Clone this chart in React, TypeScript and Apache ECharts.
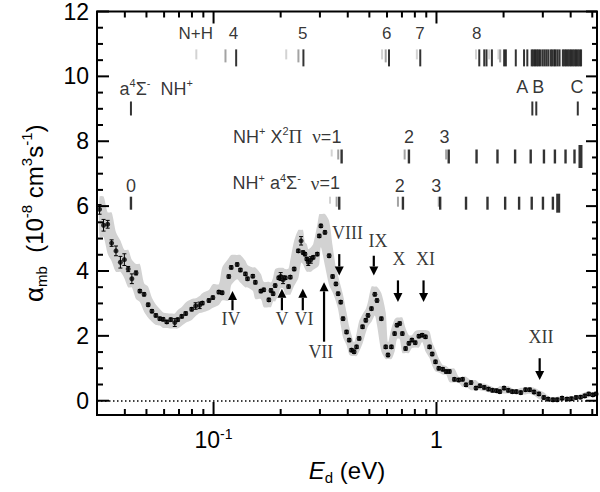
import { useEffect, useRef } from 'react';
import * as echarts from 'echarts';

const SANS = '"Liberation Sans", Arial, Helvetica, sans-serif';
const SERIF = '"Liberation Serif", "Times New Roman", Times, serif';

// ---- measured rate coefficient (E_d in eV, alpha in 1e-8 cm^3 s^-1)
const energy = [
  0.0308, 0.0321, 0.0335, 0.0349, 0.0365, 0.0382, 0.0398, 0.0414, 0.0430, 0.0449,
  0.0467, 0.0488, 0.0509, 0.0529, 0.0551, 0.0574, 0.0594, 0.0617, 0.0643, 0.0670,
  0.0691, 0.0720, 0.0750, 0.0798, 0.0831, 0.0866, 0.0891, 0.0953, 0.0993, 0.1056,
  0.1093, 0.1170, 0.1200, 0.1276, 0.1320, 0.139, 0.142, 0.150, 0.154, 0.163,
  0.168, 0.177, 0.181, 0.185, 0.189, 0.196, 0.200, 0.205, 0.210, 0.217,
  0.221, 0.230, 0.240, 0.247, 0.252, 0.257, 0.262, 0.266, 0.273, 0.280,
  0.292, 0.298, 0.303, 0.316, 0.330, 0.342, 0.354, 0.362, 0.372, 0.381,
  0.395, 0.406, 0.416, 0.427, 0.438, 0.450, 0.466, 0.482, 0.493, 0.511,
  0.529, 0.541, 0.566, 0.592, 0.606, 0.628, 0.649, 0.665, 0.684, 0.703,
  0.727, 0.752, 0.776, 0.803, 0.834, 0.863, 0.893, 0.931, 0.957, 0.990,
  1.024, 1.067, 1.105, 1.143, 1.203, 1.257, 1.310, 1.357, 1.429, 1.504,
  1.567, 1.638, 1.712, 1.784, 1.859, 1.924, 2.01, 2.10, 2.19, 2.28,
  2.39, 2.51, 2.62, 2.74, 2.88, 3.03, 3.17, 3.33, 3.48, 3.66,
  3.85, 4.03, 4.23, 4.43, 4.63, 4.82, 5.03, 5.20,
];
const alpha = [
  5.90, 5.41, 5.44, 4.86, 4.62, 4.27, 4.35, 4.06, 3.76, 3.94,
  3.38, 3.28, 2.96, 2.76, 2.63, 2.53, 2.51, 2.43, 2.50, 2.41,
  2.50, 2.60, 2.69, 2.82, 2.92, 2.94, 3.01, 3.09, 3.18, 3.35,
  3.33, 3.83, 4.11, 4.20, 4.03, 3.91, 3.76, 3.84, 3.65, 3.38,
  3.42, 3.11, 3.40, 3.30, 3.55, 3.79, 3.83, 3.73, 3.79, 3.52,
  3.81, 4.06, 4.62, 4.93, 4.57, 4.52, 4.37, 4.27, 4.34, 4.42,
  4.52, 5.08, 5.39, 5.19, 4.47, 3.83, 3.60, 3.30, 3.04, 2.53,
  2.12, 1.87, 1.56, 1.51, 1.66, 1.92, 2.28, 2.48, 2.63, 2.84,
  3.28, 3.09, 2.53, 1.66, 1.41, 1.66, 2.07, 2.33, 2.38, 2.07,
  1.61, 1.77, 1.87, 1.79, 1.99, 2.02, 1.97, 1.66, 1.44, 1.20,
  1.00, 0.97, 0.90, 0.90, 0.66, 0.64, 0.66, 0.49, 0.56, 0.39,
  0.46, 0.41, 0.36, 0.32, 0.31, 0.28, 0.39, 0.32, 0.28, 0.28,
  0.25, 0.34, 0.34, 0.27, 0.21, 0.10, 0.05, 0.03, 0.03, 0.08,
  0.05, 0.06, 0.10, 0.11, 0.15, 0.21, 0.18, 0.21,
];
const alphaErr = [
  0.15, 0.18, 0.12, 0.10, 0.15, 0.18, 0.18, 0.08, 0.15, 0.06,
  0.05, 0.05, 0.05, 0.05, 0.05, 0.05, 0.05, 0.05, 0.05, 0.12,
  0.05, 0.05, 0.05, 0.05, 0.10, 0.10, 0.05, 0.05, 0.05, 0.05,
  0.05, 0.05, 0.05, 0.05, 0.05, 0.05, 0.05, 0.05, 0.05, 0.05,
  0.05, 0.05, 0.05, 0.05, 0.05, 0.05, 0.12, 0.12, 0.05, 0.05,
  0.05, 0.05, 0.05, 0.13, 0.05, 0.05, 0.05, 0.10, 0.10, 0.05,
  0.05, 0.05, 0.05, 0.05, 0.05, 0.05, 0.05, 0.05, 0.05, 0.05,
  0.05, 0.05, 0.05, 0.05, 0.05, 0.05, 0.05, 0.05, 0.05, 0.05,
  0.05, 0.05, 0.05, 0.05, 0.05, 0.05, 0.05, 0.05, 0.05, 0.05,
  0.05, 0.05, 0.05, 0.05, 0.05, 0.05, 0.05, 0.05, 0.05, 0.05,
  0.05, 0.05, 0.05, 0.05, 0.05, 0.05, 0.05, 0.05, 0.05, 0.05,
  0.05, 0.05, 0.05, 0.05, 0.05, 0.05, 0.05, 0.05, 0.05, 0.05,
  0.05, 0.05, 0.05, 0.05, 0.05, 0.05, 0.05, 0.05, 0.05, 0.05,
  0.05, 0.05, 0.05, 0.05, 0.05, 0.05, 0.05, 0.05,
];

// ---- energy level markers (eV)
// row 1: N+H limit and NH X-state levels 4..8
const nhLight = [0.0837, 0.2118, 0.5700, 0.8167, 1.504, 1.724, 1.897];
const nhMid = [0.1131, 0.2403, 0.5920, 1.931];
const nhBlack = [
  0.1263, 0.2530, 0.6124, 0.8458, 1.556, 1.638, 1.677, 1.773, 2.012, 2.048,
  2.269, 2.471, 2.556, 2.675, 2.719, 2.767, 2.816, 2.862, 2.913, 2.983,
  3.045, 3.108, 3.173, 3.251, 3.306, 3.374, 3.423, 3.494, 3.567, 3.690,
  3.755, 3.817, 3.885, 3.953, 4.018, 4.089, 4.161, 4.230, 4.304, 4.380, 4.453,
];
const nhLabels = ['N+H', '4', '5', '6', '7', '8'];
const nhLabelE = [0.0832, 0.1229, 0.2514, 0.598, 0.844, 1.516];
// row 2: a4Sigma- NH+ and A, B, C
const a4Marks = [0.0426, 2.692, 2.804, 4.305];
const abcLabels = ['A', 'B', 'C'];
const abcLabelE = [2.428, 2.862, 4.274];
// row 3: NH+ X2Pi v levels
const xLight = [0.3388];
const xMid = [0.3625, 0.7199, 1.105];
const xBlack = [0.3754, 0.7524, 1.135, 1.513, 1.878, 2.253, 2.647, 3.035, 3.399, 3.793, 4.161];
const xLimit = [4.426];
const xLabels = ['2', '3'];
const xLabelE = [0.7536, 1.086];
// row 4: NH+ a4Sigma- v levels
const aLight = [0.3329];
const aMid = [0.3566, 0.6718, 1.024];
const aBlack = [0.0426, 0.3663, 0.7072, 1.039, 1.357, 1.694, 2.033, 2.348, 2.675, 3.004, 3.329];
const aLimit = [3.516];
const aLabels = ['0', '2', '3'];
const aLabelE = [0.0426, 0.6835, 0.997];

// ---- resonance arrows
const arrowNames = ['IV', 'V', 'VI', 'VII', 'VIII', 'IX', 'X', 'XI', 'XII'];
const arrowE = [0.1216, 0.2026, 0.2514, 0.3131, 0.3663, 0.5234, 0.6718, 0.8750, 2.904];
const arrowFrom = [2.79, 2.79, 2.79, 1.82, 4.52, 4.47, 3.71, 3.71, 1.31];
const arrowTo = [3.38, 3.45, 3.45, 3.65, 3.86, 3.86, 3.04, 3.04, 0.64];
const arrowLabelE = [0.1197, 0.2026, 0.2548, 0.303, 0.3984, 0.547, 0.679, 0.893, 2.943];
const arrowLabelY = [2.53, 2.53, 2.53, 1.51, 5.18, 4.92, 4.36, 4.36, 1.98];

// ---- axis ticks
const xMajorTicks = [0.1, 1];
const xMinorTicks = [0.04, 0.05, 0.06, 0.07, 0.08, 0.09, 0.2, 0.3, 0.4, 0.5, 0.6, 0.7, 0.8, 0.9, 2, 3, 4, 5];
const yMajorTicks = [0, 2, 4, 6, 8, 10, 12];
const yMinorTicks = [0.5, 1, 1.5, 2.5, 3, 3.5, 4.5, 5, 5.5, 6.5, 7, 7.5, 8.5, 9, 9.5, 10.5, 11, 11.5];

const X_MIN = 0.03;
const X_MAX = 5.25;
const Y_MIN = -0.44;
const Y_MAX = 12;

const ROW1_Y = 10.57;
const ROW2_Y = 9.01;
const ROW3_Y = 7.53;
const ROW4_Y = 6.09;

function richFor(size: number) {
  const sup = Math.round(size * 0.62);
  return {
    n: { fontFamily: SANS, fontSize: size, lineHeight: size + 4, color: '#000' },
    s: { fontFamily: SANS, fontSize: sup, lineHeight: sup, verticalAlign: 'top', color: '#000' },
    g: { fontFamily: SERIF, fontSize: size + 1, lineHeight: size + 4, color: '#000' },
  };
}

function tickSeries(data: number[][], dx: number, dy: number) {
  return {
    type: 'custom',
    coordinateSystem: 'cartesian2d',
    silent: true,
    z: 10,
    data,
    encode: { x: 0, y: 1 },
    renderItem: (_p: any, api: any) => {
      const p = api.coord([api.value(0), api.value(1)]);
      return {
        type: 'line',
        shape: { x1: p[0], y1: p[1], x2: p[0] + dx, y2: p[1] + dy },
        style: { stroke: '#000', lineWidth: 2 },
      };
    },
  };
}

function markSeries(es: number[], y: number, color: string, w: number, h: number, H: number) {
  return {
    type: 'scatter',
    silent: true,
    z: 6,
    symbol: 'rect',
    symbolSize: [w, h],
    symbolOffset: [0, (h - H) / 2],
    data: es.map((e) => [e, y]),
    itemStyle: { color },
    emphasis: { disabled: true },
  };
}

function textSeries(es: number[], ys: number | number[], texts: string[], opts: any = {}) {
  return {
    type: 'scatter',
    silent: true,
    z: 8,
    symbolSize: 1,
    data: es.map((e, i) => [e, Array.isArray(ys) ? ys[i] : ys]),
    itemStyle: { color: 'transparent' },
    emphasis: { disabled: true },
    label: {
      show: true,
      position: opts.position || 'inside',
      distance: 0,
      formatter: (p: any) => texts[p.dataIndex],
      color: '#000',
      fontFamily: opts.fontFamily || SANS,
      fontSize: opts.fontSize || 17,
      rich: opts.rich,
    },
  };
}

function buildOption() {
  const n = alpha.length;
  const bandUpper = alpha.map((v, i) => {
    const m = Math.max(alpha[Math.max(i - 1, 0)], v, alpha[Math.min(i + 1, n - 1)]);
    return m * 1.06 + 0.04;
  });
  const bandLower = alpha.map((v, i) => {
    const m = Math.min(alpha[Math.max(i - 1, 0)], v, alpha[Math.min(i + 1, n - 1)]);
    return m * 0.94 - 0.04;
  });

  const rich18 = richFor(18);

  return {
    animation: false,
    backgroundColor: '#fff',
    textStyle: { fontFamily: SANS },
    grid: {
      left: 97,
      right: 2,
      top: 9,
      bottom: 77,
      show: true,
      borderColor: '#000',
      borderWidth: 2,
      backgroundColor: 'transparent',
    },
    xAxis: {
      type: 'log',
      logBase: 10,
      min: X_MIN,
      max: X_MAX,
      axisLine: { show: false },
      axisTick: { show: false },
      minorTick: { show: false },
      splitLine: { show: false },
      axisLabel: {
        margin: 12,
        color: '#000',
        formatter: (v: number) => {
          if (Math.abs(v - 0.1) < 1e-6) return '{n|10}{s|-1}';
          if (Math.abs(v - 1) < 1e-6) return '{n|1}';
          return '';
        },
        rich: {
          n: { fontFamily: SANS, fontSize: 23, lineHeight: 26, color: '#000' },
          s: { fontFamily: SANS, fontSize: 14, lineHeight: 14, verticalAlign: 'top', color: '#000' },
        },
      },
      name: '{e|E}{sb|d}{n| (eV)}',
      nameLocation: 'middle',
      nameGap: 40,
      nameTextStyle: {
        rich: {
          e: { fontFamily: SANS, fontStyle: 'italic', fontSize: 24, lineHeight: 30, color: '#000' },
          sb: { fontFamily: SANS, fontSize: 15, lineHeight: 15, verticalAlign: 'bottom', color: '#000' },
          n: { fontFamily: SANS, fontSize: 24, lineHeight: 30, color: '#000' },
        },
      },
    },
    yAxis: {
      type: 'value',
      min: Y_MIN,
      max: Y_MAX,
      interval: 0.04,
      axisLine: { show: false },
      axisTick: { show: false },
      splitLine: { show: false },
      axisLabel: {
        margin: 8,
        color: '#000',
        fontFamily: SANS,
        fontSize: 23,
        formatter: (v: number) => {
          const r = Math.round(v);
          if (Math.abs(v - r) < 1e-6 && r % 2 === 0 && r >= 0) return String(r);
          return '';
        },
      },
      name: '{a|α}{sb|mb}{n|  (10}{s|-8}{n| cm}{s|3}{n|s}{s|-1}{n|)}',
      nameLocation: 'middle',
      nameGap: 48,
      nameRotate: 90,
      nameTextStyle: {
        rich: {
          a: { fontFamily: SANS, fontSize: 26, lineHeight: 30, color: '#000' },
          sb: { fontFamily: SANS, fontSize: 15, lineHeight: 15, verticalAlign: 'bottom', color: '#000' },
          n: { fontFamily: SANS, fontSize: 24, lineHeight: 30, color: '#000' },
          s: { fontFamily: SANS, fontSize: 15, lineHeight: 15, verticalAlign: 'top', color: '#000' },
        },
      },
    },
    series: [
      // uncertainty band
      {
        type: 'custom',
        coordinateSystem: 'cartesian2d',
        silent: true,
        z: 1,
        data: [[energy[0], alpha[0]]],
        encode: { x: 0, y: 1 },
        renderItem: (_p: any, api: any) => {
          const pts: number[][] = [];
          for (let i = 0; i < n; i++) pts.push(api.coord([energy[i], bandUpper[i]]));
          for (let i = n - 1; i >= 0; i--) pts.push(api.coord([energy[i], bandLower[i]]));
          return {
            type: 'polygon',
            shape: { points: pts, smooth: 0.25 },
            style: { fill: '#d2d2d2', stroke: 'none' },
          };
        },
      },
      // error bars
      {
        type: 'custom',
        coordinateSystem: 'cartesian2d',
        silent: true,
        z: 4,
        data: energy.map((e, i) => [e, alpha[i] - alphaErr[i], alpha[i] + alphaErr[i]]),
        encode: { x: 0, y: [1, 2] },
        renderItem: (_p: any, api: any) => {
          const e = api.value(0);
          const a = api.coord([e, api.value(1)]);
          const b = api.coord([e, api.value(2)]);
          const st = { stroke: '#000', lineWidth: 1 };
          return {
            type: 'group',
            children: [
              { type: 'line', shape: { x1: a[0], y1: a[1], x2: b[0], y2: b[1] }, style: st },
              { type: 'line', shape: { x1: a[0] - 2, y1: a[1], x2: a[0] + 2, y2: a[1] }, style: st },
              { type: 'line', shape: { x1: b[0] - 2, y1: b[1], x2: b[0] + 2, y2: b[1] }, style: st },
            ],
          };
        },
      },
      // data points + zero line
      {
        type: 'scatter',
        silent: true,
        z: 5,
        symbol: 'circle',
        symbolSize: 5,
        data: energy.map((e, i) => [e, alpha[i]]),
        itemStyle: { color: '#000' },
        emphasis: { disabled: true },
        markLine: {
          silent: true,
          symbol: ['none', 'none'],
          label: { show: false },
          lineStyle: { color: '#000', type: [1.5, 2.5], width: 1.5 },
          data: [{ yAxis: 0 }],
        },
      },
      // axis ticks (inside, mirrored on all sides)
      tickSeries(xMajorTicks.map((e) => [e, Y_MIN]), 0, -13),
      tickSeries(xMinorTicks.map((e) => [e, Y_MIN]), 0, -6),
      tickSeries(xMajorTicks.map((e) => [e, Y_MAX]), 0, 12),
      tickSeries(xMinorTicks.map((e) => [e, Y_MAX]), 0, 6),
      tickSeries(yMajorTicks.map((v) => [X_MIN, v]), 12, 0),
      tickSeries(yMinorTicks.map((v) => [X_MIN, v]), 6, 0),
      tickSeries(yMajorTicks.map((v) => [X_MAX, v]), -11, 0),
      tickSeries(yMinorTicks.map((v) => [X_MAX, v]), -5, 0),
      // level markers
      markSeries(nhLight, ROW1_Y, '#c8c8c8', 2, 10, 17),
      markSeries(nhMid, ROW1_Y, '#8c8c8c', 2, 13, 17),
      markSeries(nhBlack, ROW1_Y, '#000', 2, 17, 17),
      markSeries(a4Marks, ROW2_Y, '#000', 2, 14, 14),
      markSeries(xLight, ROW3_Y, '#c8c8c8', 2, 7, 14),
      markSeries(xMid, ROW3_Y, '#8c8c8c', 2, 10, 14),
      markSeries(xBlack, ROW3_Y, '#000', 2.4, 14, 14),
      markSeries(xLimit, ROW3_Y, '#000', 4, 23, 23),
      markSeries(aLight, ROW4_Y, '#c8c8c8', 2, 7, 13),
      markSeries(aMid, ROW4_Y, '#8c8c8c', 2, 10, 13),
      markSeries(aBlack, ROW4_Y, '#000', 2.4, 13, 13),
      markSeries(aLimit, ROW4_Y, '#000', 4, 19, 19),
      // level labels
      textSeries(nhLabelE, 11.31, nhLabels, { fontSize: 17 }),
      textSeries([0.03766], 9.62, ['{n|a}{s|4}{n|Σ}{s|-}{n|  NH}{s|+}'], { position: 'right', rich: rich18 }),
      textSeries(abcLabelE, 9.67, abcLabels, { fontSize: 18 }),
      textSeries([0.3765], 8.14, ['{n|NH}{s|+}{n| X}{s|2}{g|Π}{n|  }{g|ν}{n|=1}'], { position: 'left', rich: rich18 }),
      textSeries(xLabelE, 8.14, xLabels, { fontSize: 18 }),
      textSeries([0.3709], 6.70, ['{n|NH}{s|+}{n| a}{s|4}{n|Σ}{s|-}{n|  }{g|ν}{n|=1}'], { position: 'left', rich: rich18 }),
      textSeries(aLabelE, 6.62, aLabels, { fontSize: 18 }),
      // resonance arrows
      {
        type: 'custom',
        coordinateSystem: 'cartesian2d',
        silent: true,
        z: 6,
        data: arrowE.map((e, i) => [e, arrowFrom[i], arrowTo[i]]),
        encode: { x: 0, y: [1, 2] },
        renderItem: (_p: any, api: any) => {
          const e = api.value(0);
          const a = api.coord([e, api.value(1)]);
          const b = api.coord([e, api.value(2)]);
          const dir = b[1] < a[1] ? -1 : 1;
          const headLen = 9;
          const headHalf = 4.5;
          const baseY = b[1] - dir * headLen;
          return {
            type: 'group',
            children: [
              { type: 'line', shape: { x1: a[0], y1: a[1], x2: a[0], y2: baseY }, style: { stroke: '#000', lineWidth: 2.2 } },
              {
                type: 'polygon',
                shape: { points: [[b[0], b[1]], [b[0] - headHalf, baseY], [b[0] + headHalf, baseY]] },
                style: { fill: '#000' },
              },
            ],
          };
        },
      },
      textSeries(arrowLabelE, arrowLabelY, arrowNames, { fontFamily: SERIF, fontSize: 18 }),
    ],
  };
}

export default function App() {
  const ref = useRef<HTMLDivElement>(null);
  useEffect(() => {
    if (!ref.current) return;
    const chart = echarts.init(ref.current, undefined, { renderer: 'svg' });
    chart.setOption(buildOption() as any);
    return () => chart.dispose();
  }, []);
  return (
    <div
      ref={ref}
      style={{ position: 'fixed', left: 0, top: 0, width: 600, height: 492, background: '#fff' }}
    />
  );
}
